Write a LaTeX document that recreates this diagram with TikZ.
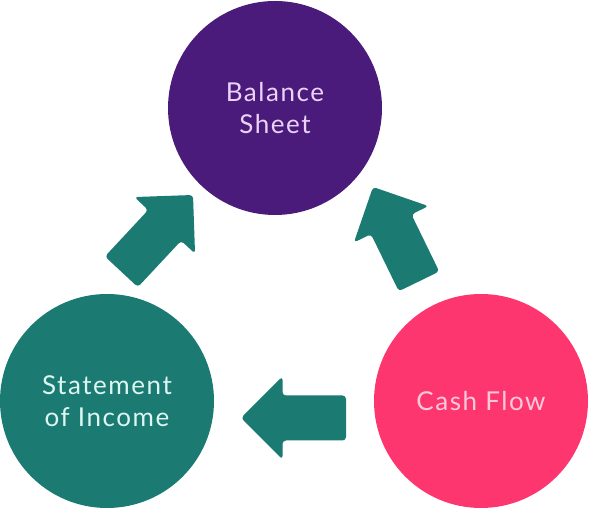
\documentclass[tikz,border=0pt]{standalone}
\usepackage{fontspec}
\setmainfont{Lato}[LetterSpace=6]
\definecolor{bspurple}{HTML}{4A1B7A}
\definecolor{sitel}{HTML}{1B7A72}
\definecolor{cfpink}{HTML}{FE366F}
\definecolor{bstext}{HTML}{EBD3F7}
\definecolor{sitext}{HTML}{DDF6F2}
\definecolor{cftext}{HTML}{FBC9DA}
\tikzset{
  bubble/.style={circle, minimum size=214pt, inner sep=0pt, align=center,
    font=\fontsize{26}{32}\selectfont},
  blockarrow/.style={fill=sitel, rounded corners=3.5pt}
}
\begin{document}
\begin{tikzpicture}[x=1pt,y=1pt]
\useasboundingbox (0,0) rectangle (589,510);
\node[bubble, fill=bspurple, text=bstext] (bs) at (275,402) {Balance\\Sheet};
\node[bubble, fill=sitel, text=sitext] (si) at (107,109) {Statement\\of Income};
\node[bubble, fill=cfpink, text=cftext] (cf) at (481,109) {Cash Flow};
% block arrows
\foreach \tx/\ty/\ang in {193/315/47, 373/323/116, 241/92/180}{
  \fill[blockarrow, shift={(\tx,\ty)}, rotate=\ang]
    (0,0) -- (-41.5,41.5) -- (-41.5,22.5) -- (-105,22.5) -- (-105,-22.5)
    -- (-41.5,-22.5) -- (-41.5,-41.5) -- cycle;
}
\end{tikzpicture}
\end{document}
